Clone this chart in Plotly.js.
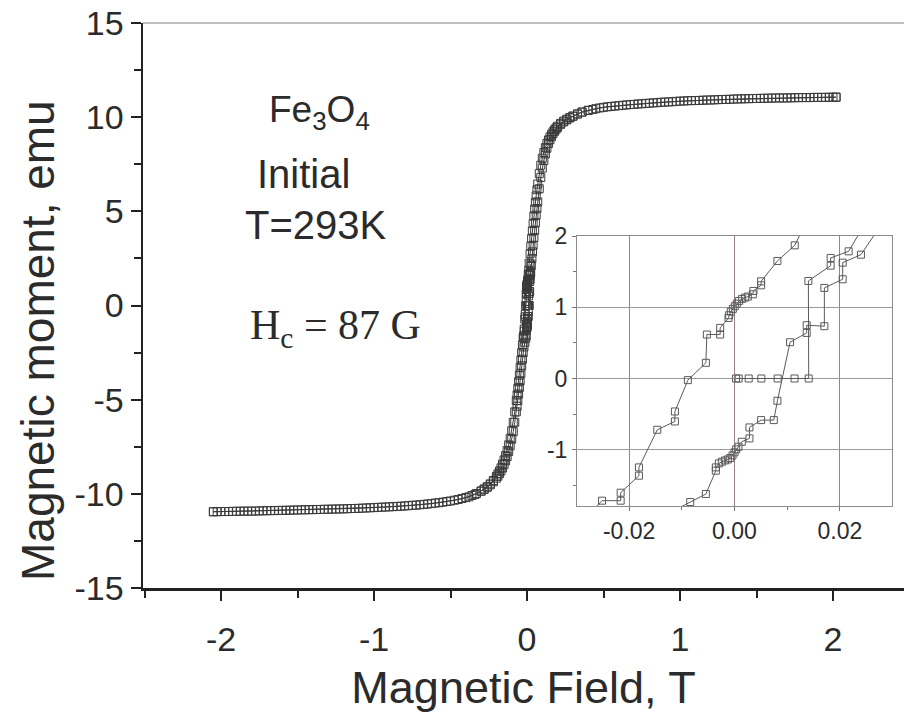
<!DOCTYPE html>
<html>
<head>
<meta charset="utf-8">
<script src="https://cdn.plot.ly/plotly-3.0.1.min.js"></script>
<style>html,body{margin:0;padding:0;background:#fff;}#chart{width:904px;height:715px;}</style>
</head>
<body>
<div id="chart"></div>
<script>
// Descending branch (from +H to -H), field in T, moment in emu
const descField = [2.02, 2.00, 1.95, 1.90, 1.85, 1.80, 1.75, 1.70, 1.65, 1.60, 1.55, 1.50, 1.45, 1.40, 1.35, 1.30, 1.25, 1.20, 1.15, 1.10, 1.05, 1.00, 0.95, 0.90, 0.85, 0.80, 0.75, 0.70, 0.65, 0.60, 0.55, 0.50, 0.45, 0.40, 0.36, 0.33, 0.30, 0.28, 0.26, 0.24, 0.22, 0.20, 0.19, 0.18, 0.17, 0.16, 0.15, 0.14, 0.13, 0.12, 0.11, 0.10, 0.09, 0.08, 0.07, 0.065, 0.06, 0.055, 0.05, 0.045, 0.04, 0.035, 0.03, 0.025, 0.02, 0.014,
  0.01144, 0.00815, 0.00506, 0.00506, 0.0036, 0.00348, 0.00253, 0.00202, 0.00145, 0.00088, 0.00044, 0.00006, -0.00032, -0.0007, -0.00101, -0.00114, -0.00272, -0.00272, -0.00524, -0.00543, -0.00885, -0.01131, -0.01131, -0.01466, -0.01814, -0.01814, -0.02161, -0.02161, -0.02515,
  -0.03, -0.035, -0.04, -0.045, -0.05, -0.055, -0.06, -0.065, -0.07, -0.08, -0.09, -0.10, -0.11, -0.12, -0.13, -0.14, -0.15, -0.16, -0.17, -0.18, -0.19, -0.20, -0.22, -0.24, -0.26, -0.28, -0.30, -0.33, -0.36, -0.40, -0.45, -0.50, -0.55, -0.60, -0.65, -0.70, -0.75, -0.80, -0.85, -0.90, -0.95, -1.00, -1.05, -1.10, -1.15, -1.20, -1.25, -1.30, -1.35, -1.40, -1.45, -1.50, -1.55, -1.60, -1.65, -1.70, -1.75, -1.80, -1.85, -1.90, -1.95, -2.00, -2.05];
const descMoment = [11.06, 11.06, 11.05, 11.05, 11.04, 11.04, 11.03, 11.02, 11.02, 11.01, 11.00, 10.99, 10.98, 10.97, 10.96, 10.94, 10.93, 10.91, 10.90, 10.88, 10.87, 10.85, 10.82, 10.80, 10.77, 10.74, 10.71, 10.68, 10.65, 10.61, 10.57, 10.52, 10.45, 10.36, 10.27, 10.17, 10.06, 9.98, 9.89, 9.79, 9.67, 9.52, 9.43, 9.33, 9.22, 9.09, 8.95, 8.79, 8.60, 8.38, 8.12, 7.82, 7.45, 7.00, 6.45, 6.15, 5.82, 5.48, 5.12, 4.75, 4.35, 3.95, 3.55, 3.15, 2.75, 2.25,
  1.869, 1.650, 1.364, 1.308, 1.229, 1.182, 1.150, 1.136, 1.117, 1.089, 1.051, 1.014, 0.977, 0.939, 0.888, 0.850, 0.710, 0.617, 0.617, 0.220, -0.023, -0.463, -0.603, -0.720, -1.248, -1.364, -1.603, -1.715, -1.715,
  -2.10, -2.50, -2.90, -3.30, -3.70, -4.05, -4.40, -4.75, -5.05, -5.65, -6.20, -6.65, -7.05, -7.40, -7.70, -7.97, -8.20, -8.42, -8.62, -8.79, -8.94, -9.07, -9.29, -9.47, -9.62, -9.74, -9.85, -9.98, -10.09, -10.20, -10.30, -10.38, -10.44, -10.49, -10.54, -10.58, -10.61, -10.64, -10.67, -10.69, -10.71, -10.73, -10.75, -10.77, -10.78, -10.80, -10.81, -10.82, -10.83, -10.84, -10.85, -10.86, -10.87, -10.88, -10.89, -10.90, -10.91, -10.92, -10.92, -10.93, -10.94, -10.94, -10.95];

// Ascending branch (from -H to +H)
const ascField = [-2.05, -2.025, -1.975, -1.925, -1.875, -1.825, -1.775, -1.725, -1.675, -1.625, -1.575, -1.525, -1.475, -1.425, -1.375, -1.325, -1.275, -1.225, -1.175, -1.125, -1.075, -1.025, -0.975, -0.925, -0.875, -0.825, -0.775, -0.725, -0.675, -0.625, -0.575, -0.525, -0.475, -0.425, -0.38, -0.34, -0.30, -0.28, -0.26, -0.24, -0.22, -0.20, -0.19, -0.18, -0.17, -0.16, -0.15, -0.14, -0.13, -0.12, -0.11, -0.10, -0.09, -0.08, -0.07, -0.065, -0.06, -0.055, -0.05, -0.045, -0.04, -0.035, -0.03, -0.025, -0.02, -0.014,
  -0.0084, -0.00543, -0.00354, -0.00354, -0.00297, -0.0024, -0.00177, -0.00126, -0.00082, -0.00038, 0.0, 0.00032, 0.00076, 0.00139, 0.00284, 0.00284, 0.00506, 0.00746, 0.00815, 0.01055, 0.01371, 0.01371, 0.01706, 0.01706, 0.02054, 0.02054, 0.02401,
  0.0275, 0.032, 0.036, 0.04, 0.045, 0.05, 0.055, 0.06, 0.065, 0.07, 0.08, 0.09, 0.10, 0.11, 0.12, 0.13, 0.14, 0.15, 0.16, 0.17, 0.18, 0.19, 0.20, 0.22, 0.24, 0.26, 0.28, 0.30, 0.33, 0.36, 0.40, 0.43, 0.475, 0.525, 0.575, 0.625, 0.675, 0.725, 0.775, 0.825, 0.875, 0.925, 0.975, 1.025, 1.075, 1.125, 1.175, 1.225, 1.275, 1.325, 1.375, 1.425, 1.475, 1.525, 1.575, 1.625, 1.675, 1.725, 1.775, 1.825, 1.875, 1.925, 1.975, 2.02];
const ascMoment = [-10.95, -10.95, -10.94, -10.93, -10.92, -10.92, -10.91, -10.90, -10.89, -10.88, -10.87, -10.86, -10.85, -10.84, -10.83, -10.82, -10.81, -10.80, -10.79, -10.78, -10.76, -10.74, -10.72, -10.70, -10.68, -10.66, -10.63, -10.60, -10.56, -10.52, -10.47, -10.41, -10.34, -10.25, -10.16, -10.03, -9.86, -9.76, -9.65, -9.52, -9.36, -9.17, -9.06, -8.93, -8.79, -8.63, -8.45, -8.25, -8.02, -7.76, -7.45, -7.10, -6.70, -6.20, -5.65, -5.35, -5.05, -4.70, -4.35, -4.00, -3.60, -3.20, -2.85, -2.50, -2.20, -1.95,
  -1.734, -1.621, -1.294, -1.248, -1.192, -1.168, -1.150, -1.136, -1.117, -1.079, -1.037, -0.995, -0.958, -0.888, -0.841, -0.687, -0.584, -0.584, -0.313, 0.509, 0.640, 0.748, 0.734, 1.271, 1.393, 1.626, 1.738,
  2.12, 2.50, 2.85, 3.20, 3.60, 4.00, 4.40, 4.80, 5.15, 5.50, 6.20, 6.80, 7.30, 7.70, 8.05, 8.35, 8.60, 8.80, 8.97, 9.12, 9.25, 9.36, 9.46, 9.62, 9.75, 9.86, 9.96, 10.05, 10.17, 10.27, 10.36, 10.41, 10.49, 10.55, 10.59, 10.63, 10.67, 10.70, 10.73, 10.76, 10.79, 10.81, 10.84, 10.86, 10.88, 10.89, 10.91, 10.92, 10.94, 10.95, 10.97, 10.98, 10.99, 11.00, 11.01, 11.02, 11.02, 11.03, 11.04, 11.04, 11.05, 11.05, 11.06, 11.06];

// Initial magnetization curve (from the demagnetized state)
const initField = [0.0003, 0.0008, 0.0027, 0.0051, 0.0082, 0.0114, 0.01409, 0.01403, 0.01826, 0.01826, 0.02167, 0.025];
const initMoment = [0, 0, 0, 0, 0, 0, 0, 1.369, 1.584, 1.692, 1.785, 2.2];

// Tick labels
const mainXTicks = [-2, -1, 0, 1, 2];
const mainXLabels = ['-2', '-1', '0', '1', '2'];
const mainYTicks = [-15, -10, -5, 0, 5, 10, 15];
const mainYLabels = ['-15', '-10', '-5', '0', '5', '10', '15'];
const insetXTicks = [-0.02, 0.00, 0.02];
const insetXLabels = ['-0.02', '0.00', '0.02'];
const insetYTicks = [-1, 0, 1, 2];
const insetYLabels = ['-1', '0', '1', '2'];

const FONT = 'Liberation Sans, Arial, Helvetica, sans-serif';
const INK = '#2b2b2b';

function branch(x, y, xa, ya, col, size) {
  return {
    x: x, y: y, xaxis: xa, yaxis: ya, type: 'scatter', mode: 'lines+markers',
    line: {color: col, width: 1},
    marker: {symbol: 'square-open', size: size, color: col, line: {width: 1, color: col}},
    hoverinfo: 'x+y', showlegend: false
  };
}

const data = [
  branch(descField, descMoment, 'x', 'y', '#3a3a3a', 8),
  branch(ascField, ascMoment, 'x', 'y', '#3a3a3a', 8),
  branch(initField, initMoment, 'x', 'y', '#3a3a3a', 8),
  branch(descField, descMoment, 'x2', 'y2', '#5a5a5a', 7),
  branch(ascField, ascMoment, 'x2', 'y2', '#5a5a5a', 7),
  branch(initField, initMoment, 'x2', 'y2', '#5a5a5a', 7)
];

const layout = {
  width: 904, height: 715,
  margin: {l: 143, r: 0, t: 23, b: 127, pad: 0},
  paper_bgcolor: '#ffffff', plot_bgcolor: 'rgba(0,0,0,0)',
  showlegend: false,
  font: {family: FONT, color: INK},
  xaxis: {
    domain: [0, 1], anchor: 'y', range: [-2.51, 2.464],
    tickmode: 'array', tickvals: mainXTicks, ticktext: mainXLabels,
    ticks: 'outside', ticklen: 10, tickwidth: 2, tickcolor: '#222',
    ticklabelstandoff: 10,
    minor: {tickmode: 'linear', tick0: 0, dtick: 0.5, ticks: 'outside', ticklen: 7, tickwidth: 2, tickcolor: '#222', showgrid: false},
    showline: true, linecolor: '#222', linewidth: 2.5,
    showgrid: false, zeroline: false,
    tickfont: {family: FONT, size: 34, color: INK},
    title: {text: 'Magnetic Field, T', font: {family: FONT, size: 45, color: INK}, standoff: 14}
  },
  yaxis: {
    domain: [0, 1], anchor: 'x', range: [-15, 15],
    tickmode: 'array', tickvals: mainYTicks, ticktext: mainYLabels,
    ticks: 'outside', ticklen: 10, tickwidth: 2, tickcolor: '#222',
    minor: {tickmode: 'linear', tick0: 0, dtick: 2.5, ticks: 'outside', ticklen: 7, tickwidth: 2, tickcolor: '#222', showgrid: false},
    showline: true, linecolor: '#222', linewidth: 2.5,
    showgrid: false, zeroline: false,
    tickfont: {family: FONT, size: 34, color: INK}
  },
  xaxis2: {
    domain: [0.5703, 0.9842], anchor: 'y2', range: [-0.0299, 0.0299],
    tickmode: 'array', tickvals: insetXTicks, ticktext: insetXLabels,
    ticks: 'outside', ticklen: 4, tickwidth: 1, tickcolor: '#777',
    minor: {tickmode: 'linear', tick0: 0, dtick: 0.01, ticks: 'outside', ticklen: 3, tickwidth: 1, tickcolor: '#777', showgrid: false},
    showline: true, mirror: true, linecolor: '#8a8a8a', linewidth: 1,
    showgrid: true, gridcolor: '#9b8088', gridwidth: 1, zeroline: false,
    tickfont: {family: FONT, size: 23, color: INK}
  },
  yaxis2: {
    domain: [0.1451, 0.623], anchor: 'x2', range: [-1.79, 2.0],
    tickmode: 'array', tickvals: insetYTicks, ticktext: insetYLabels,
    ticks: 'outside', ticklen: 4, tickwidth: 1, tickcolor: '#777',
    minor: {tickmode: 'linear', tick0: 0, dtick: 0.5, ticks: 'outside', ticklen: 3, tickwidth: 1, tickcolor: '#777', showgrid: false},
    showline: true, mirror: true, linecolor: '#8a8a8a', linewidth: 1,
    showgrid: true, gridcolor: '#9a9a9a', gridwidth: 1, zeroline: false,
    tickfont: {family: FONT, size: 23, color: INK}
  },
  shapes: [
    {type: 'line', xref: 'paper', yref: 'paper', x0: 0, x1: 1, y0: 1, y1: 1, line: {color: '#808080', width: 1}, layer: 'below'},
    {type: 'rect', xref: 'x2 domain', yref: 'y2 domain', x0: 0, x1: 1, y0: 0, y1: 1, fillcolor: '#ffffff', line: {width: 0}, layer: 'below'}
  ],
  annotations: [
    {text: 'Magnetic moment, emu', xref: 'paper', yref: 'paper', x: -0.138, y: 0.439, xanchor: 'center', yanchor: 'middle', textangle: -90, showarrow: false, font: {family: FONT, size: 46, color: INK}},
    {text: 'Fe<sub>3</sub>O<sub>4</sub>', xref: 'paper', yref: 'paper', x: 0.1630, y: 0.842, xanchor: 'left', yanchor: 'middle', showarrow: false, font: {family: FONT, size: 37, color: INK}},
    {text: 'Initial', xref: 'paper', yref: 'paper', x: 0.1470, y: 0.733, xanchor: 'left', yanchor: 'middle', showarrow: false, font: {family: FONT, size: 40, color: INK}},
    {text: 'T=293K', xref: 'paper', yref: 'paper', x: 0.1310, y: 0.6425, xanchor: 'left', yanchor: 'middle', showarrow: false, font: {family: FONT, size: 40, color: INK}},
    {text: 'H<sub>c</sub> = 87 G', xref: 'paper', yref: 'paper', x: 0.1380, y: 0.46, xanchor: 'left', yanchor: 'middle', showarrow: false, font: {family: 'Liberation Serif, Times New Roman, serif', size: 42, color: INK}}
  ]
};

Plotly.newPlot('chart', data, layout, {staticPlot: true, displayModeBar: false});
</script>
</body>
</html>
